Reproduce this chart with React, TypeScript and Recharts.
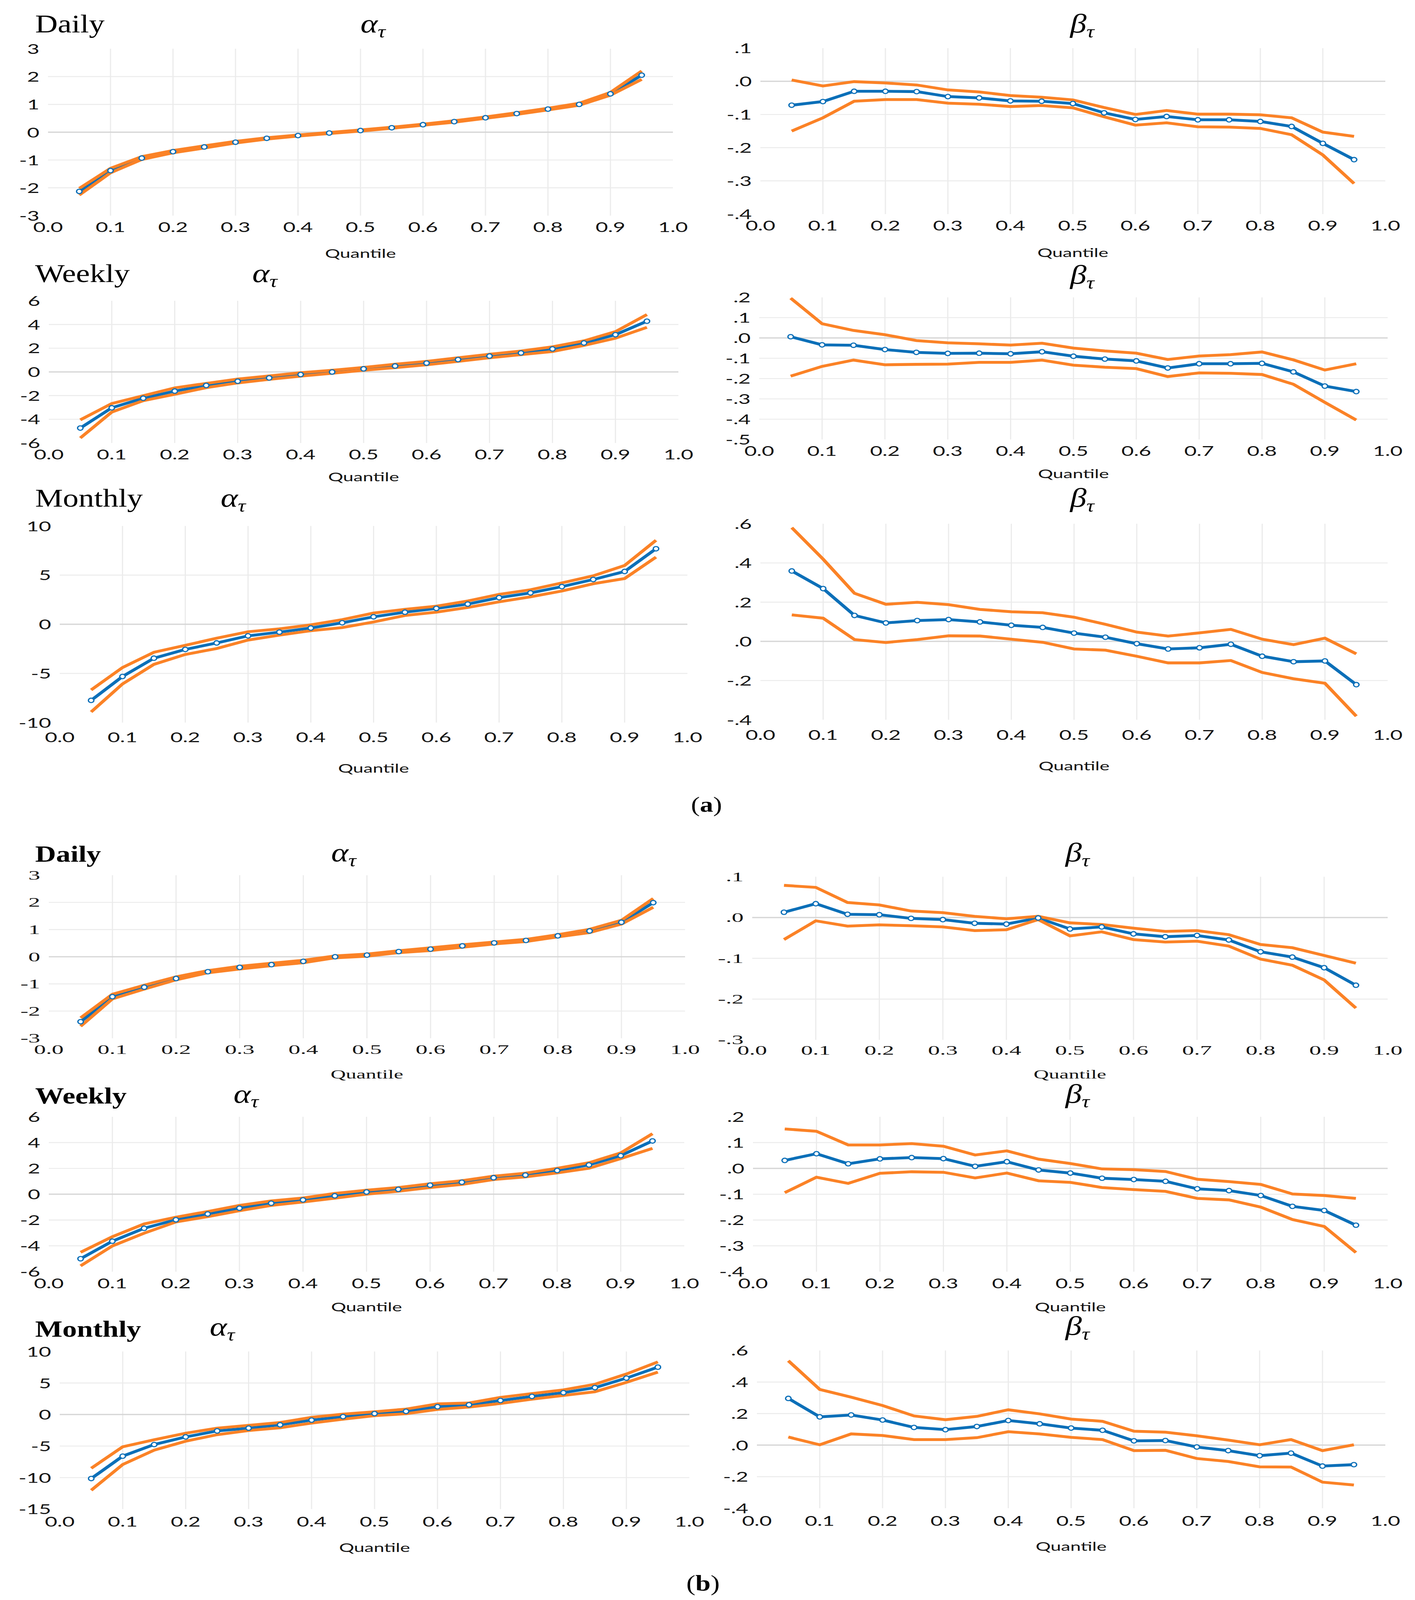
import React from "react";
import { LineChart, Line, XAxis, YAxis, CartesianGrid, ReferenceLine } from "recharts";

const BLUE = "#0b6fb8";
const ORANGE = "#fb8226";
const FULL_W = 3623;
const FULL_H = 5053;

const quantiles = [0.05, 0.1, 0.15, 0.2, 0.25, 0.3, 0.35, 0.4, 0.45, 0.5, 0.55, 0.6, 0.65, 0.7, 0.75, 0.8, 0.85, 0.9, 0.95];
const xTicks = [0, 0.1, 0.2, 0.3, 0.4, 0.5, 0.6, 0.7, 0.8, 0.9, 1.0];
const xGrid = [0.1, 0.2, 0.3, 0.4, 0.5, 0.6, 0.7, 0.8, 0.9];

// (a) daily
const aDailyAlpha = [-2.13, -1.38, -0.93, -0.7, -0.53, -0.36, -0.22, -0.12, -0.03, 0.06, 0.16, 0.27, 0.38, 0.52, 0.67, 0.83, 1.0, 1.38, 2.05];
const aDailyAlphaHi = [-2.02, -1.3, -0.88, -0.66, -0.49, -0.33, -0.2, -0.1, -0.01, 0.08, 0.18, 0.29, 0.41, 0.55, 0.7, 0.86, 1.04, 1.43, 2.2];
const aDailyAlphaLo = [-2.26, -1.46, -0.98, -0.74, -0.57, -0.39, -0.25, -0.14, -0.05, 0.04, 0.14, 0.25, 0.36, 0.5, 0.64, 0.8, 0.97, 1.33, 1.9];
const aDailyBeta = [-0.072, -0.061, -0.03, -0.03, -0.031, -0.046, -0.05, -0.059, -0.06, -0.067, -0.095, -0.115, -0.106, -0.116, -0.116, -0.121, -0.136, -0.187, -0.236];
const aDailyBetaHi = [0.004, -0.014, -0.001, -0.005, -0.011, -0.026, -0.032, -0.043, -0.048, -0.056, -0.079, -0.1, -0.088, -0.099, -0.099, -0.101, -0.11, -0.153, -0.166];
const aDailyBetaLo = [-0.15, -0.11, -0.06, -0.055, -0.055, -0.066, -0.069, -0.076, -0.073, -0.08, -0.107, -0.132, -0.125, -0.137, -0.138, -0.142, -0.161, -0.222, -0.308];

// (a) weekly
const aWeeklyAlpha = [-4.74, -3.03, -2.22, -1.62, -1.14, -0.79, -0.51, -0.22, -0.01, 0.26, 0.5, 0.74, 1.04, 1.34, 1.6, 1.94, 2.44, 3.14, 4.28];
const aWeeklyAlphaHi = [-4.05, -2.67, -2.01, -1.35, -0.97, -0.6, -0.34, -0.07, 0.14, 0.38, 0.65, 0.89, 1.19, 1.49, 1.76, 2.12, 2.62, 3.4, 4.84];
const aWeeklyAlphaLo = [-5.58, -3.39, -2.43, -1.89, -1.33, -0.93, -0.63, -0.36, -0.12, 0.14, 0.36, 0.6, 0.89, 1.19, 1.46, 1.72, 2.24, 2.84, 3.76];
const aWeeklyBeta = [0.006, -0.034, -0.036, -0.057, -0.071, -0.076, -0.075, -0.078, -0.068, -0.09, -0.104, -0.113, -0.148, -0.127, -0.127, -0.125, -0.167, -0.237, -0.264];
const aWeeklyBetaHi = [0.196, 0.07, 0.037, 0.016, -0.013, -0.024, -0.029, -0.035, -0.026, -0.05, -0.064, -0.075, -0.106, -0.089, -0.082, -0.069, -0.108, -0.158, -0.127];
const aWeeklyBetaLo = [-0.188, -0.14, -0.109, -0.132, -0.13, -0.129, -0.12, -0.12, -0.109, -0.134, -0.144, -0.151, -0.19, -0.172, -0.174, -0.18, -0.228, -0.317, -0.404];

// (a) monthly
const aMonthlyAlpha = [-7.74, -5.31, -3.45, -2.56, -1.9, -1.18, -0.8, -0.38, 0.15, 0.76, 1.23, 1.61, 2.05, 2.71, 3.19, 3.83, 4.55, 5.37, 7.68];
const aMonthlyAlphaHi = [-6.68, -4.4, -2.85, -2.14, -1.42, -0.76, -0.47, -0.06, 0.47, 1.14, 1.52, 1.84, 2.37, 3.04, 3.51, 4.21, 4.93, 5.98, 8.54];
const aMonthlyAlphaLo = [-8.92, -6.07, -4.08, -3.07, -2.47, -1.61, -1.1, -0.66, -0.34, 0.23, 0.89, 1.23, 1.71, 2.28, 2.79, 3.38, 4.12, 4.65, 6.83];
const aMonthlyBeta = [0.359, 0.269, 0.132, 0.094, 0.106, 0.111, 0.099, 0.082, 0.071, 0.042, 0.021, -0.012, -0.039, -0.033, -0.015, -0.076, -0.104, -0.1, -0.221];
const aMonthlyBetaHi = [0.58, 0.419, 0.245, 0.189, 0.199, 0.187, 0.163, 0.151, 0.146, 0.123, 0.087, 0.047, 0.027, 0.043, 0.061, 0.011, -0.017, 0.016, -0.064];
const aMonthlyBetaLo = [0.135, 0.118, 0.009, -0.006, 0.009, 0.028, 0.027, 0.011, -0.005, -0.039, -0.045, -0.076, -0.11, -0.11, -0.098, -0.159, -0.191, -0.214, -0.382];

// (b) daily
const bDailyAlpha = [-2.39, -1.47, -1.12, -0.8, -0.55, -0.39, -0.29, -0.17, 0.0, 0.06, 0.19, 0.28, 0.4, 0.51, 0.6, 0.77, 0.95, 1.27, 1.99];
const bDailyAlphaHi = [-2.25, -1.38, -1.05, -0.74, -0.51, -0.35, -0.24, -0.13, 0.03, 0.1, 0.22, 0.33, 0.44, 0.54, 0.64, 0.81, 1.01, 1.34, 2.14];
const bDailyAlphaLo = [-2.56, -1.55, -1.19, -0.85, -0.59, -0.45, -0.33, -0.22, -0.04, 0.02, 0.15, 0.23, 0.35, 0.47, 0.56, 0.73, 0.89, 1.2, 1.82];
const bDailyBeta = [0.013, 0.034, 0.008, 0.007, -0.002, -0.005, -0.014, -0.016, -0.001, -0.028, -0.023, -0.04, -0.047, -0.044, -0.055, -0.084, -0.097, -0.123, -0.166];
const bDailyBetaHi = [0.079, 0.074, 0.037, 0.031, 0.016, 0.012, 0.003, -0.003, 0.003, -0.013, -0.017, -0.026, -0.034, -0.032, -0.042, -0.066, -0.074, -0.093, -0.112];
const bDailyBetaLo = [-0.054, -0.008, -0.021, -0.018, -0.02, -0.023, -0.032, -0.03, -0.005, -0.045, -0.035, -0.054, -0.06, -0.058, -0.07, -0.102, -0.117, -0.153, -0.222];

// (b) weekly
const bWeeklyAlpha = [-5.0, -3.64, -2.64, -1.98, -1.53, -1.08, -0.7, -0.44, -0.12, 0.17, 0.38, 0.7, 0.93, 1.28, 1.48, 1.84, 2.27, 2.99, 4.13];
const bWeeklyAlphaHi = [-4.5, -3.29, -2.3, -1.78, -1.34, -0.87, -0.52, -0.29, 0.06, 0.31, 0.52, 0.81, 1.05, 1.4, 1.63, 2.01, 2.44, 3.2, 4.69];
const bWeeklyAlphaLo = [-5.55, -4.01, -3.02, -2.15, -1.74, -1.28, -0.87, -0.6, -0.31, 0.0, 0.23, 0.52, 0.76, 1.14, 1.34, 1.65, 2.01, 2.76, 3.55];
const bWeeklyBeta = [0.031, 0.057, 0.018, 0.037, 0.042, 0.038, 0.008, 0.026, -0.006, -0.018, -0.038, -0.043, -0.05, -0.079, -0.086, -0.105, -0.147, -0.163, -0.22];
const bWeeklyBetaHi = [0.153, 0.144, 0.091, 0.091, 0.096, 0.086, 0.052, 0.068, 0.036, 0.019, -0.002, -0.005, -0.012, -0.042, -0.051, -0.062, -0.099, -0.105, -0.116];
const bWeeklyBetaLo = [-0.094, -0.034, -0.058, -0.019, -0.013, -0.015, -0.037, -0.018, -0.048, -0.054, -0.074, -0.082, -0.089, -0.116, -0.122, -0.15, -0.198, -0.225, -0.326];

// (b) monthly
const bMonthlyAlpha = [-10.15, -6.6, -4.76, -3.55, -2.6, -2.16, -1.63, -0.89, -0.33, 0.15, 0.5, 1.24, 1.54, 2.22, 2.87, 3.46, 4.26, 5.77, 7.51];
const bMonthlyAlphaHi = [-8.52, -5.12, -4.0, -2.96, -2.16, -1.72, -1.27, -0.44, 0.06, 0.44, 0.86, 1.69, 1.83, 2.72, 3.31, 3.91, 4.79, 6.42, 8.34];
const bMonthlyAlphaLo = [-12.01, -7.93, -5.65, -4.23, -3.2, -2.54, -2.1, -1.36, -0.74, -0.18, 0.12, 0.8, 1.18, 1.75, 2.43, 3.02, 3.61, 5.09, 6.72];
const bMonthlyBeta = [0.296, 0.179, 0.191, 0.159, 0.112, 0.098, 0.118, 0.156, 0.135, 0.108, 0.094, 0.027, 0.029, -0.012, -0.035, -0.067, -0.051, -0.133, -0.124];
const bMonthlyBetaHi = [0.535, 0.353, 0.304, 0.251, 0.185, 0.161, 0.182, 0.224, 0.198, 0.165, 0.151, 0.088, 0.082, 0.059, 0.032, 0.002, 0.035, -0.035, 0.002];
const bMonthlyBetaLo = [0.051, 0.002, 0.071, 0.061, 0.035, 0.035, 0.047, 0.085, 0.071, 0.049, 0.035, -0.035, -0.033, -0.085, -0.104, -0.138, -0.139, -0.235, -0.253];

// y tick values
const ticksAlpha3 = [-3, -2, -1, 0, 1, 2, 3];
const ticksAlpha6 = [-6, -4, -2, 0, 2, 4, 6];
const ticksAlpha10 = [-10, -5, 0, 5, 10];
const ticksAlpha15 = [-15, -10, -5, 0, 5, 10];
const ticksBetaA1 = [-0.4, -0.3, -0.2, -0.1, 0, 0.1];
const ticksBetaA2 = [-0.5, -0.4, -0.3, -0.2, -0.1, 0, 0.1, 0.2];
const ticksBeta6 = [-0.4, -0.2, 0, 0.2, 0.4, 0.6];
const ticksBetaB1 = [-0.3, -0.2, -0.1, 0, 0.1];
const ticksBetaB2 = [-0.4, -0.3, -0.2, -0.1, 0, 0.1, 0.2];

const rowTitles = ["Daily", "Weekly", "Monthly", "Daily", "Weekly", "Monthly"];

const SANS = "Lato, 'Open Sans', sans-serif";
const SERIF = "'Liberation Serif', 'Times New Roman', serif";

const fmtAlpha = (v: number) => String(v);
const fmtBeta = (v: number) => {
  const d = Math.round(Math.abs(v) * 10);
  return (v < -1e-9 ? "-" : "") + "." + d;
};

const panels = [
  { x0: 123, x1: 1723, y0: 154, y1: 681, ticks: ticksAlpha3, est: aDailyAlpha, hi: aDailyAlphaHi, lo: aDailyAlphaLo, fmt: fmtAlpha, serif: false, tickDy: 36, qY: 800 },
  { x0: 1947, x1: 3547, y0: 152, y1: 676, ticks: ticksBetaA1, est: aDailyBeta, hi: aDailyBetaHi, lo: aDailyBetaLo, fmt: fmtBeta, serif: false, tickDy: 36, qY: 798 },
  { x0: 125, x1: 1737, y0: 950, y1: 1399, ticks: ticksAlpha6, est: aWeeklyAlpha, hi: aWeeklyAlphaHi, lo: aWeeklyAlphaLo, fmt: fmtAlpha, serif: false, tickDy: 35, qY: 1505 },
  { x0: 1944, x1: 3553, y0: 939, y1: 1388, ticks: ticksBetaA2, est: aWeeklyBeta, hi: aWeeklyBetaHi, lo: aWeeklyBetaLo, fmt: fmtBeta, serif: false, tickDy: 36, qY: 1496 },
  { x0: 153, x1: 1760, y0: 1661, y1: 2282, ticks: ticksAlpha10, est: aMonthlyAlpha, hi: aMonthlyAlphaHi, lo: aMonthlyAlphaLo, fmt: fmtAlpha, serif: false, tickDy: 46, qY: 2426 },
  { x0: 1947, x1: 3553, y0: 1654, y1: 2273, ticks: ticksBeta6, est: aMonthlyBeta, hi: aMonthlyBetaHi, lo: aMonthlyBetaLo, fmt: fmtBeta, serif: false, tickDy: 47, qY: 2419 },
  { x0: 125, x1: 1754, y0: 2764, y1: 3279, ticks: ticksAlpha3, est: bDailyAlpha, hi: bDailyAlphaHi, lo: bDailyAlphaLo, fmt: fmtAlpha, serif: true, tickDy: 35, qY: 3393 },
  { x0: 1926, x1: 3553, y0: 2769, y1: 3284, ticks: ticksBetaB1, est: bDailyBeta, hi: bDailyBetaHi, lo: bDailyBetaLo, fmt: fmtBeta, serif: true, tickDy: 33, qY: 3393 },
  { x0: 125, x1: 1752, y0: 3527, y1: 4016, ticks: ticksAlpha6, est: bWeeklyAlpha, hi: bWeeklyAlphaHi, lo: bWeeklyAlphaLo, fmt: fmtAlpha, serif: false, tickDy: 36, qY: 4127 },
  { x0: 1928, x1: 3553, y0: 3527, y1: 4016, ticks: ticksBetaB2, est: bWeeklyBeta, hi: bWeeklyBetaHi, lo: bWeeklyBetaLo, fmt: fmtBeta, serif: false, tickDy: 36, qY: 4127 },
  { x0: 153, x1: 1765, y0: 4268, y1: 4766, ticks: ticksAlpha15, est: bMonthlyAlpha, hi: bMonthlyAlphaHi, lo: bMonthlyAlphaLo, fmt: fmtAlpha, serif: false, tickDy: 39, qY: 4887 },
  { x0: 1938, x1: 3547, y0: 4265, y1: 4763, ticks: ticksBeta6, est: bMonthlyBeta, hi: bMonthlyBetaHi, lo: bMonthlyBetaLo, fmt: fmtBeta, serif: false, tickDy: 39, qY: 4883 },
];

// title placement per row
const titleRows = [
  { bold: false, base: 102, ax: 923, ab: 102, bx: 2740, bb: 102 },
  { bold: false, base: 891, ax: 646, ab: 891, bx: 2740, bb: 896 },
  { bold: false, base: 1600, ax: 565, ab: 1600, bx: 2740, bb: 1600 },
  { bold: true, base: 2722, ax: 848, ab: 2720, bx: 2728, bb: 2720 },
  { bold: true, base: 3485, ax: 598, ab: 3482, bx: 2728, bb: 3482 },
  { bold: true, base: 4221, ax: 537, ab: 4218, bx: 2728, bb: 4215 },
];

const PAD_L = 150;
const PAD_R = 40;
const PAD_T = 40;
const PAD_B = 120;
const Y_W = 120;
const X_H = 60;

function Panel({ p }: { p: any }) {
  const w = p.x1 - p.x0 + PAD_L + PAD_R;
  const h = p.y1 - p.y0 + PAD_T + PAD_B;
  const data = quantiles.map((q, i) => ({ q, est: p.est[i], hi: p.hi[i], lo: p.lo[i] }));
  const font = p.serif ? SERIF : SANS;
  const sx = p.serif ? 1.45 : 1.3;
  const yMin = p.ticks[0];
  const yMax = p.ticks[p.ticks.length - 1];
  const yGrid = p.ticks.filter((v: number) => v !== yMin && v !== yMax && v !== 0);

  const XTick = (props: any) => (
    <text
      transform={`translate(${props.x} ${props.y + p.tickDy}) scale(${sx} 1)`}
      textAnchor="middle"
      dominantBaseline="central"
      fontFamily={font}
      fontSize={42}
      fill="#111"
    >
      {props.payload.value.toFixed(1)}
    </text>
  );
  const YTick = (props: any) => (
    <text
      transform={`translate(${props.x - 22} ${props.y}) scale(${sx} 1)`}
      textAnchor="end"
      dominantBaseline="central"
      fontFamily={font}
      fontSize={42}
      fill="#111"
    >
      {p.fmt(props.payload.value)}
    </text>
  );

  return (
    <div style={{ position: "absolute", left: p.x0 - PAD_L, top: p.y0 - PAD_T }}>
      <LineChart
        width={w}
        height={h}
        data={data}
        margin={{ top: PAD_T, right: PAD_R, left: PAD_L - Y_W, bottom: PAD_B - X_H }}
      >
        <CartesianGrid horizontalValues={yGrid} verticalValues={xGrid} stroke="#ebebeb" strokeWidth={3} />
        <XAxis
          type="number"
          dataKey="q"
          domain={[0, 1]}
          ticks={xTicks}
          interval={0}
          height={X_H}
          axisLine={false}
          tickLine={false}
          tickSize={0}
          tickMargin={0}
          tick={XTick}
        />
        <YAxis
          type="number"
          domain={[yMin, yMax]}
          ticks={p.ticks}
          interval={0}
          width={Y_W}
          axisLine={false}
          tickLine={false}
          tickSize={0}
          tickMargin={0}
          allowDataOverflow
          tick={YTick}
        />
        <ReferenceLine y={0} stroke="#d6d6d6" strokeWidth={4} />
        <Line
          type="linear"
          dataKey="est"
          stroke={BLUE}
          strokeWidth={9}
          dot={{ r: 7, fill: "#fff", stroke: BLUE, strokeWidth: 3.5 }}
          activeDot={false}
          isAnimationActive={false}
        />
        <Line type="linear" dataKey="hi" stroke={ORANGE} strokeWidth={9} dot={false} activeDot={false} isAnimationActive={false} />
        <Line type="linear" dataKey="lo" stroke={ORANGE} strokeWidth={9} dot={false} activeDot={false} isAnimationActive={false} />
      </LineChart>
    </div>
  );
}

export default function App() {
  // the photographed viewport can be shorter than the full figure: squeeze to fit
  const vh = typeof window !== "undefined" && window.innerHeight ? window.innerHeight : FULL_H;
  const vw = typeof window !== "undefined" && window.innerWidth ? window.innerWidth : FULL_W;
  const sy = Math.min(1, vh / FULL_H);
  const sx = Math.min(1, vw / FULL_W);

  return (
    <div style={{ position: "relative", width: FULL_W * sx, height: FULL_H * sy, overflow: "hidden", background: "#fff" }}>
      <style>{"html,body{margin:0;padding:0;background:#fff;overflow:hidden}"}</style>
      <div
        style={{
          position: "absolute",
          left: 0,
          top: 0,
          width: FULL_W,
          height: FULL_H,
          transform: `scale(${sx}, ${sy})`,
          transformOrigin: "0 0",
        }}
      >
        {panels.map((p, i) => (
          <Panel key={i} p={p} />
        ))}
        <svg width={FULL_W} height={FULL_H} style={{ position: "absolute", left: 0, top: 0, pointerEvents: "none" }}>
          {titleRows.map((r, i) => (
            <g key={i}>
              <text
                x={90}
                y={r.base}
                fontFamily={SERIF}
                fontSize={r.bold ? 74 : 80}
                fontWeight={r.bold ? 700 : 400}
                fill="#000"
              >
                {rowTitles[i]}
              </text>
              <text x={r.ax} y={r.ab} fontFamily={SERIF} fontStyle="italic" fontSize={84} fill="#000">
                α<tspan fontSize={56} dy={16}>τ</tspan>
              </text>
              <text x={r.bx} y={r.bb} fontFamily={SERIF} fontStyle="italic" fontSize={84} fill="#000">
                β<tspan fontSize={56} dy={16}>τ</tspan>
              </text>
            </g>
          ))}
          {panels.map((p, i) => (
            <text
              key={"q" + i}
              transform={`translate(${(p.x0 + p.x1) / 2} ${p.qY}) scale(${p.serif ? 1.35 : 1.3} 1)`}
              textAnchor="middle"
              dominantBaseline="central"
              fontFamily={p.serif ? SERIF : SANS}
              fontSize={p.serif ? 40 : 37}
              fill="#111"
            >
              Quantile
            </text>
          ))}
          <text x={1809} y={2564} textAnchor="middle" fontFamily={SERIF} fontSize={68} fill="#000">
            (<tspan fontWeight={700}>a</tspan>)
          </text>
          <text x={1800} y={5024} textAnchor="middle" fontFamily={SERIF} fontSize={70} fill="#000">
            (<tspan fontWeight={700}>b</tspan>)
          </text>
        </svg>
      </div>
    </div>
  );
}
